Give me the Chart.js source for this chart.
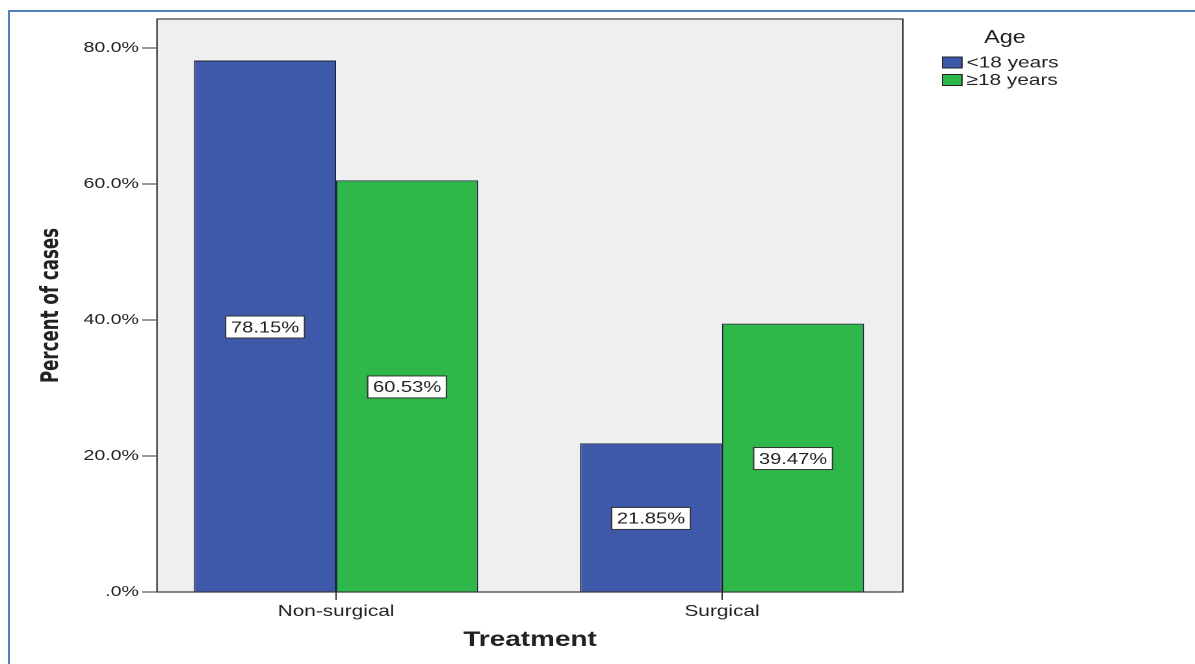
<!DOCTYPE html>
<html>
<head>
<meta charset="utf-8">
<script src="https://cdn.jsdelivr.net/npm/chart.js@4.4.1/dist/chart.umd.min.js"></script>
<style>
  html, body { margin: 0; padding: 0; background: #fff; }
  /* the source picture is stretched sideways, so the chart is too */
  #wrap { position: absolute; left: 0; top: 0; width: 920px; height: 664px;
          transform: scaleX(1.3); transform-origin: 0 0; }
  #frame { position: absolute; left: 8px; top: 10px; width: 1190px; height: 660px;
           border-top: 2px solid #4f81bd; border-left: 2px solid #4f81bd; }
</style>
</head>
<body>
<div id="frame"></div>
<div id="wrap"><canvas id="chart" width="920" height="664"></canvas></div>
<script>
// ============================
// DATOS
// ============================
const categories  = ['Non-surgical', 'Surgical'];
const seriesNames = ['<18 years', '\u226518 years'];
const under18     = [78.15, 21.85];
const over18      = [60.53, 39.47];
const yTicks      = [0, 20, 40, 60, 80];
const yTickLabels = ['.0%', '20.0%', '40.0%', '60.0%', '80.0%'];
const legendTitle = 'Age';
const xTitle      = 'Treatment';
const yTitle      = 'Percent of cases';

const colors = ['#3e58aa', '#2eb84a'];

Chart.defaults.font.family = "'Liberation Sans', Arial, sans-serif";
Chart.defaults.color = '#222';

// fondo gris + marco del area del grafico
const plotFrame = {
    id: 'plotFrame',
    beforeDatasetsDraw(chart) {
        const { ctx, chartArea: a } = chart;
        ctx.save();
        ctx.fillStyle = '#efefef';
        ctx.fillRect(a.left, a.top, a.right - a.left, a.bottom - a.top);
        ctx.restore();
    },
    afterDatasetsDraw(chart) {
        const { ctx, chartArea: a } = chart;
        ctx.save();
        ctx.strokeStyle = '#3a3a3a';
        ctx.lineWidth = 1.2;
        ctx.strokeRect(a.left, a.top, a.right - a.left, a.bottom - a.top);
        ctx.restore();
    }
};

// etiquetas con caja blanca en el medio de cada barra
const boxLabels = {
    id: 'boxLabels',
    afterDraw(chart) {
        const { ctx } = chart;
        ctx.save();
        ctx.font = "15.5px 'Liberation Sans', Arial, sans-serif";
        ctx.textAlign = 'center';
        ctx.textBaseline = 'middle';
        chart.data.datasets.forEach((ds, di) => {
            chart.getDatasetMeta(di).data.forEach((bar, i) => {
                const txt = ds.data[i].y.toFixed(2) + '%';
                const w = ctx.measureText(txt).width + 8;
                const h = 22;
                const cx = bar.x;
                const cy = (bar.y + bar.base) / 2 + 1;
                ctx.fillStyle = '#fff';
                ctx.fillRect(cx - w / 2, cy - h / 2, w, h);
                ctx.strokeStyle = '#333';
                ctx.lineWidth = 1;
                ctx.strokeRect(cx - w / 2, cy - h / 2, w, h);
                ctx.fillStyle = '#222';
                ctx.fillText(txt, cx, cy + 1);
            });
        });
        ctx.restore();
    }
};

// leyenda a la derecha, estilo SPSS
const sideLegend = {
    id: 'sideLegend',
    afterDraw(chart) {
        const { ctx } = chart;
        ctx.save();
        ctx.fillStyle = '#222';
        ctx.textBaseline = 'middle';
        ctx.textAlign = 'center';
        ctx.font = "18px 'Liberation Sans', Arial, sans-serif";
        ctx.fillText(legendTitle, 773, 38);
        ctx.textAlign = 'left';
        ctx.font = "16px 'Liberation Sans', Arial, sans-serif";
        chart.data.datasets.forEach((ds, i) => {
            const y = 57 + i * 17.5;
            ctx.fillStyle = ds.backgroundColor;
            ctx.fillRect(725, y, 15, 11);
            ctx.strokeStyle = '#222';
            ctx.lineWidth = 1;
            ctx.strokeRect(725, y, 15, 11);
            ctx.fillStyle = '#222';
            ctx.fillText(ds.label, 743.5, y + 6);
        });
        ctx.restore();
    }
};

const ctx = document.getElementById('chart').getContext('2d');

const chart = new Chart(ctx, {
    type: 'bar',
    data: {
        datasets: [under18, over18].map((serie, i) => ({
            label: seriesNames[i],
            data: serie.map((v, j) => ({ x: j, y: v })),
            backgroundColor: colors[i],
            borderColor: '#1f2540',
            borderWidth: 1,
            categoryPercentage: 0.736,
            barPercentage: 1
        }))
    },
    plugins: [plotFrame, boxLabels, sideLegend],
    options: {
        responsive: false,
        devicePixelRatio: 2,
        animation: false,
        layout: { padding: { left: 0, top: 19, right: 225.4, bottom: 0 } },
        plugins: {
            legend: { display: false },
            tooltip: { enabled: false }
        },
        scales: {
            x: {
                type: 'linear',
                min: -0.4638,
                max: 1.4688,
                offset: false,
                afterBuildTicks: s => { s.ticks = categories.map((c, i) => ({ value: i })); },
                afterFit: s => { s.height = 72; },
                grid: { offset: false, drawOnChartArea: false, drawTicks: true, tickLength: 8, color: '#333' },
                border: { display: true, color: '#3a3a3a' },
                ticks: {
                    autoSkip: false,
                    maxRotation: 0,
                    padding: 2,
                    font: { size: 16 },
                    callback: v => categories[v]
                },
                title: {
                    display: true,
                    text: xTitle,
                    font: { size: 21.5, weight: 'bold' },
                    padding: { top: 0, bottom: 11.1 }
                }
            },
            y: {
                min: 0,
                max: 84.26,
                afterBuildTicks: s => { s.ticks = yTicks.map(v => ({ value: v })); },
                afterFit: s => { s.width = 120.8; },
                grid: { drawOnChartArea: false, drawTicks: true, tickLength: 11.5, color: '#333' },
                border: { display: true, color: '#3a3a3a' },
                ticks: {
                    padding: 2.5,
                    font: { size: 15 },
                    callback: v => yTickLabels[yTicks.indexOf(v)]
                },
                title: {
                    display: true,
                    text: yTitle,
                    font: { family: "'Liberation Sans Narrow', 'DejaVu Sans Condensed', sans-serif", size: 18.5, weight: 'bold' },
                    padding: { top: 28.8, bottom: 0 }
                }
            }
        }
    }
});
</script>
</body>
</html>
